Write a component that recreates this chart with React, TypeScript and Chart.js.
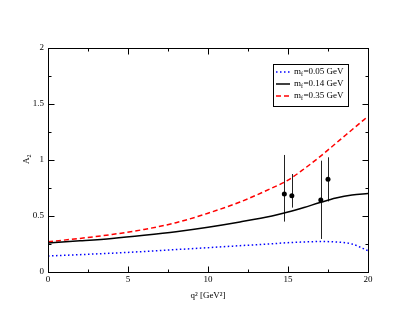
import React, { useEffect, useRef } from "react";
import { Chart, registerables } from "chart.js";
Chart.register(...registerables);

const curveX = [0, 2, 4, 6, 8, 10, 12, 14, 15, 16, 17, 18, 19, 20];
const blueY = [0.143, 0.155, 0.168, 0.183, 0.2, 0.217, 0.235, 0.252, 0.262, 0.268, 0.272, 0.268, 0.25, 0.19];
const blackY = [0.258, 0.278, 0.3, 0.328, 0.36, 0.4, 0.447, 0.5, 0.535, 0.576, 0.62, 0.66, 0.687, 0.7];
const redY = [0.27, 0.3, 0.335, 0.38, 0.44, 0.525, 0.625, 0.75, 0.82, 0.92, 1.03, 1.15, 1.27, 1.39];

const ptX = [14.77, 15.24, 17.05, 17.5];
const ptY = [0.696, 0.68, 0.643, 0.828];
const errLo = [0.45, 0.575, 0.295, 0.63];
const errHi = [1.045, 0.875, 0.994, 1.024];

const legendLabels = ["0.05 GeV", "0.14 GeV", "0.35 GeV"];
const xMajor = [0, 5, 10, 15, 20];
const xMinor = [2.5, 7.5, 12.5, 17.5];
const yMajor = [0, 0.5, 1, 1.5, 2];
const yMinor = [0.25, 0.75, 1.25, 1.75];

const FONT = "'Liberation Serif', 'Times New Roman', serif";

const decorPlugin = {
  id: "decor",
  beforeDatasetsDraw(chart: any) {
    const ctx = chart.ctx;
    const xs = chart.scales.x;
    const ys = chart.scales.y;
    ctx.save();
    ctx.strokeStyle = "#222";
    ctx.lineWidth = 1;
    for (let i = 0; i < ptX.length; i++) {
      const px = Math.round(xs.getPixelForValue(ptX[i])) + 0.5;
      ctx.beginPath();
      ctx.moveTo(px, ys.getPixelForValue(errLo[i]));
      ctx.lineTo(px, ys.getPixelForValue(errHi[i]));
      ctx.stroke();
    }
    ctx.restore();
  },
  afterDraw(chart: any) {
    const ctx = chart.ctx;
    const a = chart.chartArea;
    const xs = chart.scales.x;
    const ys = chart.scales.y;
    ctx.save();
    ctx.strokeStyle = "#000";
    ctx.lineWidth = 1;
    const L = Math.round(a.left) + 0.5, R = Math.round(a.right) + 0.5;
    const T = Math.round(a.top) + 0.5, B = Math.round(a.bottom) + 0.5;
    ctx.strokeRect(L, T, R - L, B - T);
    ctx.beginPath();
    const tx = (v: number, len: number) => {
      const p = Math.round(xs.getPixelForValue(v)) + 0.5;
      ctx.moveTo(p, B); ctx.lineTo(p, B - len);
      ctx.moveTo(p, T); ctx.lineTo(p, T + len);
    };
    const ty = (v: number, len: number) => {
      const p = Math.round(ys.getPixelForValue(v)) + 0.5;
      ctx.moveTo(L, p); ctx.lineTo(L + len, p);
      ctx.moveTo(R, p); ctx.lineTo(R - len, p);
    };
    xMajor.forEach((v) => tx(v, 6));
    xMinor.forEach((v) => tx(v, 3));
    yMajor.forEach((v) => ty(v, 6));
    yMinor.forEach((v) => ty(v, 3));
    ctx.stroke();

    // axis titles
    ctx.fillStyle = "#000";
    ctx.font = `9px ${FONT}`;
    ctx.textAlign = "center";
    ctx.textBaseline = "alphabetic";
    ctx.fillText("q\u00B2 [GeV\u00B2]", (a.left + a.right) / 2, 298);

    ctx.save();
    ctx.translate(29, (a.top + a.bottom) / 2);
    ctx.rotate(-Math.PI / 2);
    ctx.textAlign = "left";
    ctx.font = `9px ${FONT}`;
    ctx.fillText("A", -4, 0);
    ctx.font = `6px ${FONT}`;
    ctx.fillText("2", 2.5, 2);
    ctx.restore();

    // legend
    const bx = 273.5, by = 64.5, bw = 75, bh = 42;
    ctx.fillStyle = "#fff";
    ctx.fillRect(bx, by, bw, bh);
    ctx.strokeStyle = "#000";
    ctx.lineWidth = 1;
    ctx.strokeRect(bx, by, bw, bh);
    const rows = [72, 84, 96];
    const styles = [
      { c: "#0000ff", d: [1.5, 2.5] },
      { c: "#000000", d: [] },
      { c: "#ff0000", d: [5, 3] },
    ];
    rows.forEach((ry, i) => {
      ctx.beginPath();
      ctx.strokeStyle = styles[i].c;
      ctx.lineWidth = 1.5;
      ctx.setLineDash(styles[i].d);
      ctx.moveTo(276, ry);
      ctx.lineTo(290, ry);
      ctx.stroke();
      ctx.setLineDash([]);
      ctx.fillStyle = "#000";
      ctx.textAlign = "left";
      ctx.textBaseline = "middle";
      ctx.font = `9px ${FONT}`;
      let x = 294;
      ctx.fillText("m", x, ry);
      x += ctx.measureText("m").width;
      ctx.font = `6px ${FONT}`;
      ctx.fillText("f", x, ry + 2.5);
      x += ctx.measureText("f").width + 0.5;
      ctx.font = `9px ${FONT}`;
      ctx.fillText("=" + legendLabels[i], x, ry);
    });
    ctx.restore();
  },
};

export default function App() {
  const ref = useRef<HTMLCanvasElement>(null);
  useEffect(() => {
    if (!ref.current) return;
    const mk = (ys: number[]) => curveX.map((x, i) => ({ x, y: ys[i] }));
    const chart = new Chart(ref.current, {
      type: "line",
      data: {
        datasets: [
          {
            data: mk(blueY), borderColor: "#0000ff", borderWidth: 1.5,
            borderDash: [1.5, 2.5], pointRadius: 0, cubicInterpolationMode: "monotone", fill: false,
          },
          {
            data: mk(blackY), borderColor: "#000000", borderWidth: 1.5,
            pointRadius: 0, cubicInterpolationMode: "monotone", fill: false,
          },
          {
            data: mk(redY), borderColor: "#ff0000", borderWidth: 1.5,
            borderDash: [5, 3], pointRadius: 0, cubicInterpolationMode: "monotone", fill: false,
          },
          {
            data: ptX.map((x, i) => ({ x, y: ptY[i] })), showLine: false,
            pointRadius: 2.5, pointBackgroundColor: "#000", pointBorderColor: "#000", borderWidth: 0,
          },
        ],
      } as any,
      options: {
        responsive: false,
        animation: false,
        layout: { padding: { top: 48, right: 47, left: 0, bottom: 0 } },
        plugins: { legend: { display: false }, tooltip: { enabled: false } },
        scales: {
          x: {
            type: "linear", min: 0, max: 20,
            ticks: { stepSize: 5, color: "#000", font: { family: FONT, size: 9 }, padding: 2, maxRotation: 0 },
            grid: { display: false, drawTicks: false },
            border: { display: false },
            afterFit: (s: any) => { s.height = 49; },
          },
          y: {
            min: 0, max: 2,
            ticks: {
              stepSize: 0.5, color: "#000", font: { family: FONT, size: 9 }, padding: 4,
              callback: (v: any) => String(Number(v)),
            },
            grid: { display: false, drawTicks: false },
            border: { display: false },
            afterFit: (s: any) => { s.width = 48; },
          },
        },
      } as any,
      plugins: [decorPlugin],
    });
    return () => chart.destroy();
  }, []);
  return (
    <div style={{ position: "absolute", left: 0, top: 0, width: 415, height: 321, background: "#fff" }}>
      <canvas ref={ref} width={415} height={321} />
    </div>
  );
}
